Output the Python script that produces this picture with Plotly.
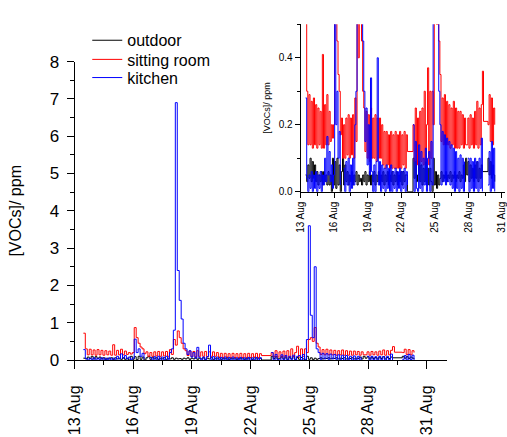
import pandas as pd
import plotly.graph_objects as go

# sampling grid: first reading 13 Aug 10:48, one reading every 0.1 day
start_time = "2012-08-13 10:48"
step_minutes = 144

outdoor = [
    0.05, 0.03, 0.08, 0.04, 0.10, 0.03, 0.09, 0.04, 0.08, 0.03,
    0.06, 0.02, 0.05, 0.03, 0.06, 0.02, 0.06, 0.03, 0.05, 0.02,
    0.06, 0.02, 0.05, 0.00, 0.10, 0.02, 0.09, 0.01, 0.10, 0.02,
    0.08, 0.00, 0.06, 0.10, 0.02, 0.08, 0.03, 0.06, 0.02, 0.05,
    0.03, 0.06, 0.02, 0.05, 0.03, 0.06, 0.02, 0.05, 0.03, 0.04,
    0.02, 0.05, 0.03, 0.06, 0.02, 0.05, 0.03, 0.06, 0.02, 0.05,
    0.03, 0.06, 0.02, 0.05, 0.03, 0.06, 0.02, 0.05, 0.03, 0.06,
    0.02, 0.05, 0.03, 0.06, 0.02, 0.05, 0.03, 0.06, 0.02, 0.05,
    0.03, 0.06, 0.02, 0.05, 0.03, 0.06, 0.02, 0.06, 0.03, 0.05,
    0.05, 0.00, None, None, None, None, 0.10, 0.04, 0.09, 0.03,
    0.05, 0.09, 0.03, 0.08, 0.02, 0.07, 0.03, 0.09, 0.02, 0.07,
    0.02, 0.07, 0.03, 0.00, 0.10, 0.02, 0.06, 0.01, 0.05, 0.02,
    0.04, 0.06, 0.03, 0.05, 0.04, 0.06, 0.03, 0.05, 0.04, 0.06,
    0.03, 0.05, 0.04, 0.06, 0.03, 0.05, 0.04, 0.06, 0.03, 0.05,
    0.04, 0.08, 0.03, 0.10, 0.05, 0.09, 0.03, 0.08, 0.04, 0.07,
    0.03, 0.08, 0.04, 0.09, 0.03, 0.07, 0.04, 0.08, 0.06, None,
    None, None, None, 0.10, 0.05, 0.09, 0.04, 0.08, 0.05, 0.03,
]

sitting_room = [
    0.72, 0.30, 0.14, 0.29, 0.14, 0.27, 0.13, 0.28, 0.14, 0.26,
    0.13, 0.25, 0.14, 0.24, 0.13, 0.41, 0.13, 0.26, 0.14, 0.29,
    0.14, 0.24, 0.15, 0.20, 0.16, 0.20, 0.87, 0.60, 0.45, 0.35,
    0.30, 0.17, 0.22, 0.10, 0.20, 0.10, 0.22, 0.11, 0.23, 0.10,
    0.22, 0.11, 0.23, 0.10, 0.28, 0.15, 0.55, 0.40, 0.78, 0.60,
    0.45, 0.30, 0.25, 0.12, 0.24, 0.10, 0.23, 0.09, 0.25, 0.10,
    0.22, 0.10, 0.23, 0.09, 0.22, 0.10, 0.22, 0.10, 0.20, 0.08,
    0.18, 0.07, 0.18, 0.08, 0.17, 0.07, 0.18, 0.07, 0.17, 0.07,
    0.18, 0.07, 0.17, 0.07, 0.18, 0.07, 0.17, 0.08, 0.18, 0.07,
    0.17, 0.12, None, None, None, None, 0.20, 0.09, 0.25, 0.08,
    0.22, 0.08, 0.24, 0.09, 0.25, 0.08, 0.30, 0.09, 0.20, 0.37,
    0.08, 0.30, 0.10, 0.30, 0.20, 0.55, 0.60, 0.50, 0.87, 0.45,
    0.35, 0.15, 0.28, 0.14, 0.29, 0.14, 0.27, 0.14, 0.26, 0.13,
    0.25, 0.14, 0.27, 0.13, 0.25, 0.13, 0.24, 0.13, 0.24, 0.14,
    0.23, 0.13, 0.22, 0.14, None, 0.22, 0.13, 0.23, 0.14, 0.22,
    0.13, 0.24, 0.14, 0.27, 0.13, 0.25, 0.14, 0.26, 0.36, 0.21,
    None, None, None, 0.20, 0.29, 0.15, 0.28, 0.14, 0.25, 0.20,
]

kitchen = [
    0.28, 0.04, 0.00, 0.05, 0.01, 0.06, 0.00, 0.05, 0.01, 0.06,
    0.00, 0.05, 0.01, 0.06, 0.00, 0.05, 0.02, 0.10, 0.03, 0.165,
    0.05, 0.12, 0.03, 0.08, 0.01, 0.05, 0.56, 0.20, 0.30, 0.10,
    0.18, 0.02, None, None, 0.07, 0.00, 0.09, 0.02, 0.10, 0.00,
    0.08, 0.01, 0.10, 0.02, 0.20, 0.30, 0.80, 6.90, 2.40, 1.60,
    1.10, 0.45, 0.30, 0.15, 0.25, 0.08, 0.20, 0.05, 0.34, 0.06,
    0.00, 0.08, 0.00, 0.09, 0.40, 0.02, 0.09, 0.00, 0.08, 0.01,
    0.07, 0.00, 0.08, 0.01, 0.07, 0.00, 0.08, 0.00, 0.06, 0.01,
    0.07, 0.00, 0.06, 0.01, 0.07, 0.00, 0.06, 0.01, 0.07, 0.00,
    0.06, 0.02, None, None, None, None, 0.20, 0.00, 0.15, 0.01,
    0.00, 0.14, 0.01, 0.12, 0.00, 0.10, 0.02, 0.13, 0.00, 0.10,
    0.12, 0.00, 0.15, 0.02, 0.55, 3.60, 1.20, 0.60, 2.50, 0.30,
    0.20, 0.02, 0.18, 0.03, 0.17, 0.02, 0.16, 0.03, 0.15, 0.02,
    0.14, 0.01, 0.13, 0.00, 0.12, 0.01, 0.10, 0.00, 0.11, 0.01,
    0.10, 0.00, 0.09, None, None, 0.10, 0.00, 0.10, 0.01, 0.09,
    0.00, 0.10, 0.01, 0.09, 0.00, 0.10, 0.01, 0.16, 0.00, None,
    None, None, None, 0.02, 0.12, 0.00, 0.15, 0.01, 0.13, 0.00,
]

tick_dates = ["2012-08-13", "2012-08-16", "2012-08-19", "2012-08-22",
              "2012-08-25", "2012-08-28", "2012-08-31"]
tick_labels = ["13 Aug", "16 Aug", "19 Aug", "22 Aug", "25 Aug", "28 Aug", "31 Aug"]
main_y_ticks = [0, 1, 2, 3, 4, 5, 6, 7, 8]
inset_y_ticks = [0.0, 0.2, 0.4]
inset_y_labels = ["0.0", "0.2", "0.4"]

series_names = ["outdoor", "sitting room", "kitchen"]
series_colors = ["#000000", "#FF0000", "#0000FF"]
series_values = [outdoor, sitting_room, kitchen]
series_connect = [True, True, False]
legend_ids = ["legend", "legend2", "legend3"]

times = pd.date_range(start=start_time, periods=len(kitchen), freq=f"{step_minutes}min")

W, H = 507, 437
FONT = "Liberation Sans, Arial, sans-serif"

fig = go.Figure()
for name, col, vals, con, lg in zip(series_names, series_colors, series_values,
                                    series_connect, legend_ids):
    fig.add_trace(go.Scatter(x=times, y=vals, mode="lines", name=name, legend=lg,
                             line=dict(color=col, width=1, simplify=False, shape="hv"),
                             connectgaps=con, xaxis="x", yaxis="y"))
for name, col, vals, con in zip(series_names, series_colors, series_values, series_connect):
    fig.add_trace(go.Scatter(x=times, y=vals, mode="lines", name=name, showlegend=False,
                             line=dict(color=col, width=1, simplify=False, shape="hv"),
                             connectgaps=con, xaxis="x2", yaxis="y2"))

day_ms = 86400000
common_axis = dict(showgrid=False, zeroline=False, showline=True, linecolor="black",
                   linewidth=1, ticks="outside", tickcolor="black", tickwidth=1)


def legend_box(center_y):
    return dict(x=80 / W, y=1 - (center_y - 24) / H, xanchor="left", yanchor="top",
                bgcolor="rgba(0,0,0,0)", font=dict(size=16, family=FONT, color="black"),
                itemwidth=30)


fig.update_layout(
    width=W, height=H,
    margin=dict(l=0, r=0, t=0, b=0),
    paper_bgcolor="white", plot_bgcolor="rgba(0,0,0,0)",
    font=dict(family=FONT, color="black"),
    showlegend=True,
    legend=legend_box(39),
    legend2=legend_box(59),
    legend3=legend_box(78),
    xaxis=dict(**common_axis, type="date", domain=[67 / W, 448 / W],
               range=["2012-08-13", "2012-09-01 01:12"],
               tickvals=tick_dates, ticktext=tick_labels, tickangle=-90,
               ticklen=8, tickfont=dict(size=16), ticklabelstandoff=10,
               minor=dict(ticks="outside", ticklen=4, tickcolor="black",
                          dtick=1.5 * day_ms, tick0="2012-08-13")),
    yaxis=dict(**common_axis, domain=[(H - 367) / H, (H - 55) / H], range=[0, 8],
               tickvals=main_y_ticks, ticklen=7, tickfont=dict(size=17),
               ticklabelstandoff=4,
               minor=dict(ticks="outside", ticklen=4, tickcolor="black", dtick=0.5),
               title=dict(text="[VOCs]/ ppm", font=dict(size=16), standoff=24)),
    xaxis2=dict(**common_axis, type="date", domain=[298 / W, 1.0], anchor="y2",
                range=["2012-08-13", "2012-08-31 06:29"],
                tickvals=tick_dates, ticktext=tick_labels, tickangle=-90,
                ticklen=5, tickfont=dict(size=10), ticklabeloverflow="allow",
                minor=dict(ticks="outside", ticklen=3, tickcolor="black",
                           dtick=1.5 * day_ms, tick0="2012-08-13")),
    yaxis2=dict(**common_axis, domain=[(H - 191) / H, (H - 16) / H], anchor="x2",
                range=[0, 0.5], tickvals=inset_y_ticks, ticktext=inset_y_labels,
                ticklen=5, tickfont=dict(size=10),
                minor=dict(ticks="outside", ticklen=3, tickcolor="black", dtick=0.1),
                title=dict(text="[VOCs]/ ppm", font=dict(size=9), standoff=6)),
)

fig.write_html("out.html")
